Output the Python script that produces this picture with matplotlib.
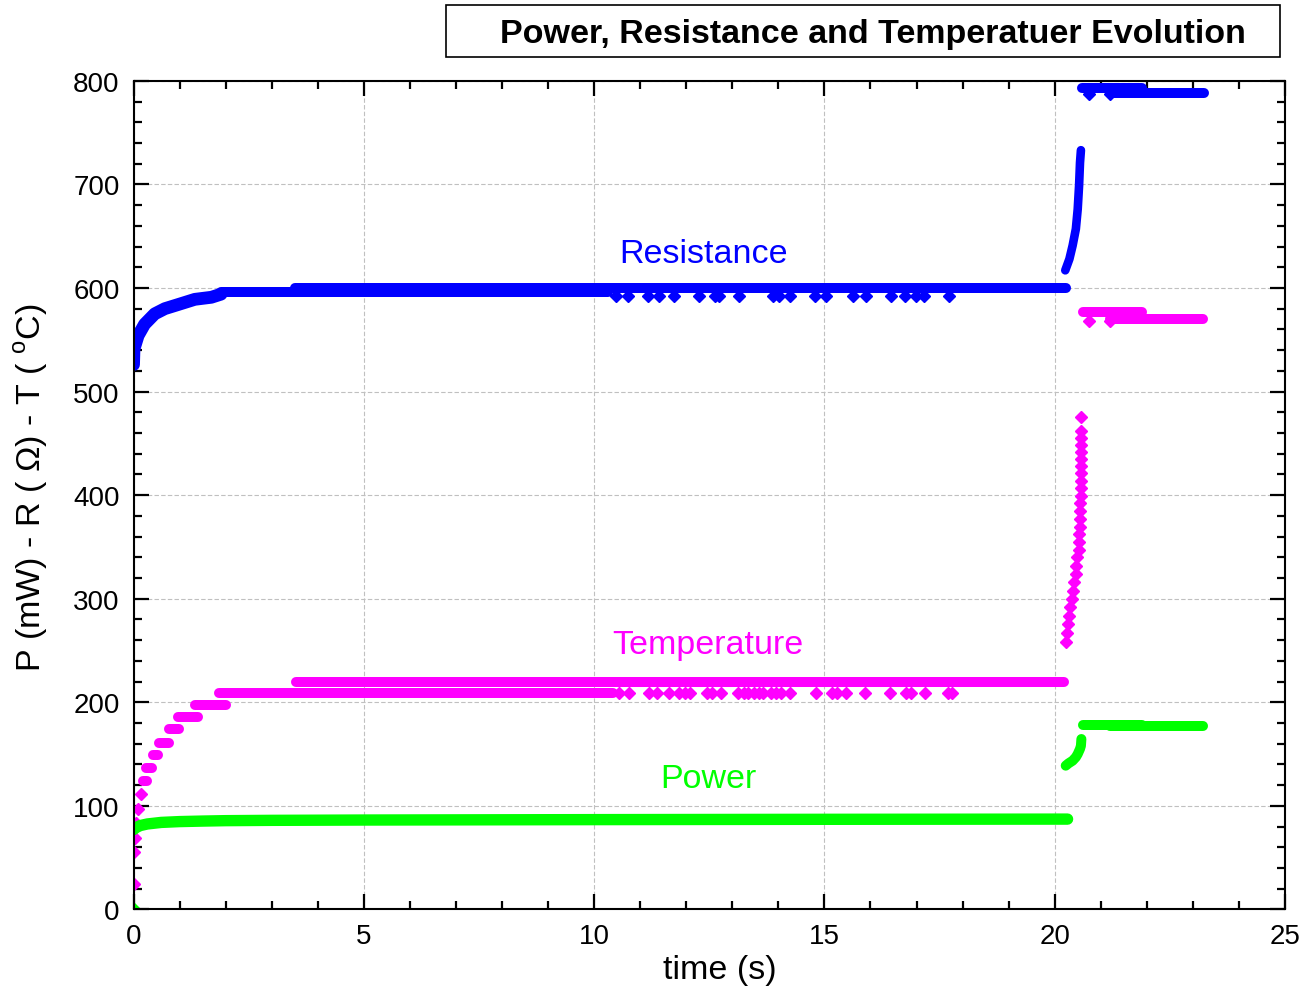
import matplotlib
matplotlib.use("Agg")
import matplotlib.pyplot as plt
from matplotlib.patches import Rectangle
from matplotlib.ticker import MultipleLocator

plt.rcParams["font.family"] = ["Liberation Sans", "DejaVu Sans"]
plt.rcParams["mathtext.fontset"] = "custom"
plt.rcParams["mathtext.rm"] = "Liberation Sans"

BLUE = "#0000ff"
MAGENTA = "#ff00ff"
GREEN = "#00ff00"

# --- Resistance (ohm) ---
res_rise_t = [0.0, 0.01, 0.1, 0.24, 0.46, 0.68, 0.97, 1.33, 1.69, 1.9]
res_rise_v = [526, 541, 554, 565, 575, 580, 584, 589, 591, 594]
res_flat_v = [596, 600, 793, 788.5]
res_flat_span = [(1.9, 10.3), (3.5, 20.25), (20.6, 21.9), (21.2, 23.25)]
res_dip_t = [10.48, 10.73, 11.16, 11.40, 11.74, 12.28, 12.62, 12.71, 13.15,
             13.88, 14.02, 14.26, 14.80, 15.04, 15.62, 15.91, 16.45, 16.74,
             16.98, 17.17, 17.71, 20.75, 21.2]
res_dip_v = [592] * 21 + [787, 787]
res_jump_t = [20.23, 20.32, 20.39, 20.46, 20.50, 20.53, 20.55, 20.57]
res_jump_v = [617, 628, 641, 657, 676, 699, 721, 733]

# --- Temperature (C) ---
temp_rise_t = [0.0, 0.02, 0.03, 0.06, 0.10, 0.16]
temp_rise_v = [25, 55, 69, 83, 97, 111]
temp_flat_v = [124, 137, 149, 161, 174, 185.5, 197, 209, 220, 576.5, 570]
temp_flat_span = [(0.2, 0.3), (0.28, 0.41), (0.43, 0.53), (0.56, 0.77),
                  (0.77, 0.99), (0.97, 1.39), (1.34, 2.0), (1.85, 10.4),
                  (3.52, 20.2), (20.62, 21.9), (21.2, 23.22)]
temp_dot_t = [10.55, 10.76, 11.2, 11.37, 11.62, 11.85, 11.97, 12.08, 12.45,
              12.55, 12.75, 13.12, 13.25, 13.35, 13.47, 13.57, 13.67, 13.83,
              13.95, 14.05, 14.25, 14.82, 15.16, 15.28, 15.47, 15.88, 16.43,
              16.78, 16.88, 17.18, 17.68, 17.78, 20.74, 21.2]
temp_dot_v = [209] * 32 + [568, 568]
temp_jump_t = [20.24, 20.27, 20.29, 20.32, 20.34, 20.37, 20.40, 20.43, 20.46,
               20.46, 20.48, 20.52, 20.52, 20.52, 20.55, 20.55, 20.55, 20.55,
               20.57, 20.57, 20.57, 20.57, 20.57, 20.57, 20.57, 20.57, 20.57,
               20.57, 20.57]
temp_jump_v = [257.9, 266.6, 275.6, 283.6, 291.7, 299.7, 307.7, 315.8, 323.8,
               331.9, 339.9, 347.3, 355.0, 362.5, 369.5, 376.9, 385.0, 392.4,
               399.5, 406.6, 413.9, 421.4, 427.8, 434.9, 441.9, 448.4, 454.8,
               462.2, 475.1]

# --- Power (mW) ---
pow_t = [0.0, 0.05, 0.15, 0.3, 0.6, 1.0, 1.5, 2.0, 3.0, 5.0, 10.0, 15.0, 20.28]
pow_v = [77, 79, 81, 82.5, 84, 84.8, 85.3, 85.7, 86.0, 86.3, 86.7, 87.0, 87.2]
pow_flat_v = [178.5, 177.5]
pow_flat_span = [(20.62, 21.9), (21.2, 23.22)]
pow_jump_t = [20.24, 20.30, 20.39, 20.46, 20.50, 20.55, 20.57, 20.58]
pow_jump_v = [138.8, 141, 143.6, 147, 150, 155, 158, 164.5]

LW = 7.2
MS = 6.4

fig = plt.figure(figsize=(13.04, 9.95), dpi=100)
ax = fig.add_axes([0.1024, 0.085, 0.8830, 0.8328])


def flat(levels, spans, color):
    for v, (t0, t1) in zip(levels, spans):
        ax.plot([t0, t1], [v, v], color=color, lw=LW, solid_capstyle="round")


def dots(t, v, color):
    ax.plot(t, v, ls="none", marker="D", ms=MS, color=color, mec=color)


# resistance
ax.plot(res_rise_t, res_rise_v, color=BLUE, lw=LW + 2, solid_capstyle="round")
flat(res_flat_v, res_flat_span, BLUE)
dots(res_dip_t, res_dip_v, BLUE)
ax.plot(res_jump_t, res_jump_v, color=BLUE, lw=LW - 1, solid_capstyle="round")

# temperature
dots(temp_rise_t, temp_rise_v, MAGENTA)
flat(temp_flat_v, temp_flat_span, MAGENTA)
dots(temp_dot_t, temp_dot_v, MAGENTA)
dots(temp_jump_t, temp_jump_v, MAGENTA)

# power
dots([0.0], [0.0], GREEN)
ax.plot(pow_t, pow_v, color=GREEN, lw=LW + 1, solid_capstyle="round")
flat(pow_flat_v, pow_flat_span, GREEN)
ax.plot(pow_jump_t, pow_jump_v, color=GREEN, lw=LW, solid_capstyle="round")

# series labels
ax.text(12.37, 633, "Resistance", color=BLUE, fontsize=24.5, ha="center", va="center")
ax.text(12.46, 256, "Temperature", color=MAGENTA, fontsize=24.5, ha="center", va="center")
ax.text(12.48, 126, "Power", color=GREEN, fontsize=24.5, ha="center", va="center")

ax.set_xlim(0, 25)
ax.set_ylim(0, 800)
ax.xaxis.set_major_locator(MultipleLocator(5))
ax.xaxis.set_minor_locator(MultipleLocator(1))
ax.yaxis.set_major_locator(MultipleLocator(100))
ax.yaxis.set_minor_locator(MultipleLocator(20))
ax.tick_params(which="both", direction="in", top=True, right=True, width=1.6,
               labelsize=20)
ax.tick_params(which="major", length=11, pad=10)
ax.tick_params(which="minor", length=6)
for s in ax.spines.values():
    s.set_linewidth(1.5)
ax.grid(which="major", color="#c0c0c0", ls=(0, (4, 2)), lw=0.8)
ax.set_axisbelow(True)

ax.set_xlabel("time (s)", fontsize=24.5, va="top")
ax.xaxis.set_label_coords(0.509, -0.054)
ax.set_ylabel(r"P (mW) - R ( Ω) - T ( $^{\rm o}$C)", fontsize=24.5)
ax.yaxis.set_label_coords(-0.0725, 0.51)

# title box
fig.patches.append(Rectangle((446 / 1304, 1 - 58 / 995), (1280 - 446) / 1304, 52 / 995,
                             transform=fig.transFigure, fill=False, ec="black", lw=1.2))
fig.text(500 / 1304, 1 - 34 / 995, "Power, Resistance and Temperatuer Evolution",
         fontsize=24.5, fontweight="bold", ha="left", va="center")

fig.savefig("out.png", dpi=100)
